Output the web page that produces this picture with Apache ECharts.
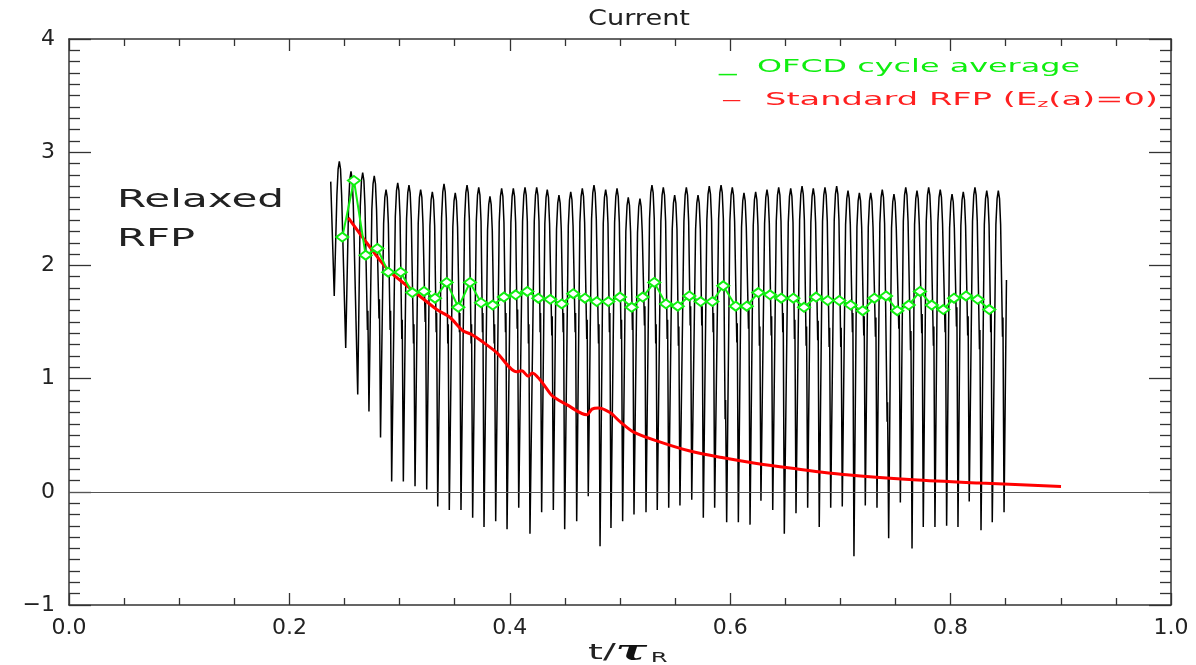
<!DOCTYPE html>
<html>
<head>
<meta charset="utf-8">
<script src="https://cdn.jsdelivr.net/npm/echarts@6/dist/echarts.min.js"></script>
<style>
html,body{margin:0;padding:0;background:#fff;}
#chart{width:1196px;height:665px;}
</style>
</head>
<body>
<div id="chart"></div>
<script>
// ---------------- data ----------------
const xTicks = [0.0, 0.2, 0.4, 0.6, 0.8, 1.0];
const yTicks = [-1, 0, 1, 2, 3, 4];

// OFCD oscillating current (black): start point, trough/peak sequence, notch level, end point
const blackStart = [0.2375, 2.74];
const blackEnd = [0.8507, 1.87];
const peakT = [0.2453,0.2559,0.2665,0.2770,0.2877,0.2983,0.3085,0.3191,0.3297,0.3403,
  0.3505,0.3612,0.3718,0.3820,0.3926,0.4032,0.4138,0.4244,0.4340,0.4446,
  0.4553,0.4658,0.4764,0.4870,0.4973,0.5075,0.5181,0.5290,0.5393,0.5496,
  0.5602,0.5708,0.5810,0.5917,0.6019,0.6125,0.6231,0.6334,0.6440,0.6549,
  0.6652,0.6754,0.6860,0.6966,0.7069,0.7172,0.7275,0.7380,0.7486,0.7593,
  0.7695,0.7801,0.7906,0.8013,0.8115,0.8221,0.8328,0.8433];
const peakV = [2.92,2.83,2.82,2.79,2.67,2.73,2.71,2.67,2.65,2.72,
  2.64,2.71,2.69,2.61,2.68,2.68,2.69,2.69,2.67,2.62,
  2.65,2.68,2.71,2.67,2.68,2.60,2.59,2.71,2.69,2.62,
  2.69,2.62,2.70,2.71,2.69,2.64,2.65,2.67,2.69,2.68,
  2.70,2.68,2.69,2.70,2.66,2.64,2.64,2.67,2.63,2.69,
  2.66,2.69,2.67,2.63,2.65,2.69,2.66,2.66];
const troughT = [0.2407,0.2511,0.2620,0.2722,0.2827,0.2928,0.3034,0.3140,0.3246,0.3346,
  0.3451,0.3557,0.3663,0.3766,0.3872,0.3975,0.4081,0.4183,0.4289,0.4395,
  0.4498,0.4607,0.4712,0.4819,0.4918,0.5024,0.5127,0.5236,0.5338,0.5442,
  0.5544,0.5651,0.5756,0.5859,0.5968,0.6074,0.6180,0.6279,0.6386,0.6491,
  0.6597,0.6703,0.6808,0.6912,0.7017,0.7123,0.7226,0.7332,0.7438,0.7544,
  0.7650,0.7752,0.7858,0.7964,0.8067,0.8169,0.8276,0.8378,0.8485];
const troughV = [1.73,1.27,0.86,0.71,0.48,0.09,0.09,0.05,0.02,-0.13,
  -0.16,-0.16,-0.23,-0.31,-0.26,-0.33,-0.14,-0.37,-0.18,-0.16,
  -0.33,-0.26,-0.04,-0.48,-0.32,-0.26,-0.20,-0.18,-0.16,-0.14,
  -0.12,-0.07,-0.23,-0.14,-0.27,-0.27,-0.29,-0.08,-0.16,-0.37,
  -0.19,-0.14,-0.31,-0.14,-0.13,-0.57,-0.12,-0.14,-0.41,-0.095,
  -0.50,-0.31,-0.31,-0.30,-0.31,-0.086,-0.34,-0.27,-0.18];
const notchV = [null,null,1.60,1.70,1.60,1.52,1.48,1.67,1.58,1.48,
  1.58,1.48,1.58,1.48,1.58,1.61,1.48,1.58,1.55,1.58,
  1.58,1.52,1.48,1.58,1.52,1.60,1.64,1.48,1.52,1.46,
  1.64,1.64,1.58,0.81,1.49,1.61,1.46,1.55,1.58,1.52,
  1.46,1.51,1.45,1.45,1.58,1.55,1.54,0.79,1.61,1.42,
  1.57,1.46,1.58,1.63,1.55,1.43,1.58,1.54];
const archDT = [-0.0022, -0.0011, 0, 0.0011, 0.0021];
const archDV = [-0.30, -0.07, 0, -0.07, -0.30];

// Standard RFP (red)
const rfpT = [0.2535,0.2701,0.2897,0.3094,0.3337,0.3457,0.3578,0.3654,0.3760,0.3881,
  0.4063,0.4108,0.4168,0.4204,0.4274,0.4365,0.4395,0.4516,0.4698,0.4746,0.4803,
  0.4909,0.5000,0.5121,0.5333,0.5635,0.5937,0.6240,0.6543,0.7057,0.7661,0.8267,0.9002];
const rfpV = [2.42,2.20,1.96,1.80,1.61,1.54,1.42,1.39,1.32,1.23,
  1.06,1.07,1.02,1.05,0.99,0.87,0.84,0.77,0.68,0.73,0.74,
  0.70,0.62,0.53,0.45,0.36,0.30,0.25,0.21,0.15,0.106,0.077,0.047];

// OFCD cycle average (green)
const avgT = [0.2480,0.2586,0.2692,0.2798,0.2897,0.3010,0.3115,0.3221,0.3321,0.3427,
  0.3533,0.3639,0.3739,0.3845,0.3947,0.4053,0.4159,0.4259,0.4367,0.4471,
  0.4576,0.4682,0.4789,0.4894,0.5000,0.5106,0.5206,0.5311,0.5417,0.5524,
  0.5629,0.5732,0.5838,0.5937,0.6050,0.6150,0.6255,0.6361,0.6463,0.6573,
  0.6670,0.6779,0.6885,0.6990,0.7093,0.7202,0.7308,0.7414,0.7516,0.7620,
  0.7722,0.7829,0.7934,0.8031,0.8140,0.8246,0.8351];
const avgV = [2.25,2.75,2.09,2.15,1.94,1.94,1.76,1.77,1.71,1.85,
  1.63,1.85,1.67,1.65,1.72,1.74,1.77,1.71,1.70,1.66,
  1.75,1.71,1.68,1.68,1.72,1.63,1.72,1.85,1.66,1.64,
  1.73,1.68,1.68,1.82,1.64,1.64,1.76,1.74,1.71,1.71,
  1.63,1.72,1.69,1.69,1.65,1.60,1.71,1.73,1.60,1.65,
  1.77,1.65,1.61,1.71,1.73,1.70,1.61];

// ---------------- build series data ----------------
const blackData = [blackStart.slice(), [troughT[0], troughV[0]]];
for (let i = 0; i < peakT.length; i++) {
  for (let k = 0; k < archDT.length; k++) {
    blackData.push([peakT[i] + archDT[k], peakV[i] + archDV[k]]);
  }
  if (notchV[i] != null) {
    const tn = troughT[i + 1] - 0.0014;
    blackData.push([tn, notchV[i] - 0.17]);
    blackData.push([tn + 0.0004, notchV[i]]);
  }
  blackData.push([troughT[i + 1], troughV[i + 1]]);
}
blackData.push(blackEnd.slice());
const rfpData = rfpT.map((t, i) => [t, rfpV[i]]);
const avgData = avgT.map((t, i) => [t, avgV[i]]);

// ---------------- helpers for wide vector-style lettering ----------------
const FONT = "'DejaVu Sans', sans-serif";
const mctx = document.createElement('canvas').getContext('2d');
function textW(str, size, fam) { mctx.font = size + 'px ' + (fam || FONT); return mctx.measureText(str).width; }

const axisColor = '#333';
const tickLabel = { fontFamily: FONT, fontSize: 22, color: '#222' };

const chart = echarts.init(document.getElementById('chart'), null, { renderer: 'canvas' });

const xAxisBase = {
  type: 'value', min: 0, max: 1, interval: 0.2,
  axisLine: { show: true, onZero: false, lineStyle: { color: axisColor, width: 1.5 } },
  axisTick: { show: true, inside: true, length: 12, lineStyle: { color: axisColor, width: 1.3 } },
  minorTick: { show: true, splitNumber: 4, length: 7, lineStyle: { color: axisColor, width: 1.3 } },
  splitLine: { show: false }, minorSplitLine: { show: false }
};
const yAxisBase = {
  type: 'value', min: -1, max: 4, interval: 1,
  axisLine: { show: true, onZero: false, lineStyle: { color: axisColor, width: 1.5 } },
  axisTick: { show: true, inside: true, length: 22, lineStyle: { color: axisColor, width: 1.3 } },
  minorTick: { show: true, splitNumber: 10, length: 11, lineStyle: { color: axisColor, width: 1.3 } },
  splitLine: { show: false }, minorSplitLine: { show: false }
};

// lettering sizes
const legendSize = 17.5;
const g1 = 'OFCD cycle average';
const r1a = 'Standard RFP (E', r1b = 'z', r1c = '(a)=0)';
const subSize = 11;
const redW = textW(r1a, legendSize) + textW(r1c, legendSize) + textW(r1b, subSize);
const axTitleW = textW('t/', 22) + textW('\u03C4', 27, "'DejaVu Serif'") + textW('R', 14) + 2;

const option = {
  animation: false,
  backgroundColor: '#fff',
  grid: { left: 69, right: 25, top: 39, bottom: 60, containLabel: false },
  xAxis: [
    Object.assign({}, xAxisBase, { position: 'bottom',
      axisLabel: Object.assign({}, tickLabel, { margin: 12, formatter: v => v.toFixed(1) }) }),
    Object.assign({}, xAxisBase, { position: 'top', axisLabel: { show: false } })
  ],
  yAxis: [
    Object.assign({}, yAxisBase, { position: 'left',
      axisLabel: Object.assign({}, tickLabel, { margin: 14, formatter: v => (v < 0 ? '\u2212' + Math.abs(v) : String(v)) }) }),
    Object.assign({}, yAxisBase, { position: 'right', axisLabel: { show: false } })
  ],
  series: [
    {
      name: 'OFCD', type: 'line', data: blackData, symbol: 'none', showSymbol: false,
      smooth: false,
      lineStyle: { color: '#000', width: 1.5 }, z: 2,
      markLine: {
        silent: true, symbol: 'none', label: { show: false }, animation: false,
        lineStyle: { color: '#555', width: 1.2, type: 'solid' },
        data: [{ yAxis: 0 }]
      }
    },
    {
      name: 'Standard RFP', type: 'line', data: rfpData, symbol: 'none', showSymbol: false,
      smooth: 0.3, lineStyle: { color: '#ff0000', width: 3 }, z: 3
    },
    {
      name: 'OFCD cycle average', type: 'line', data: avgData,
      symbol: 'emptyDiamond', symbolSize: [12, 9], showSymbol: true,
      itemStyle: { color: '#10ee10', borderWidth: 1.5, borderColor: '#10ee10' },
      lineStyle: { color: '#10ee10', width: 2 }, z: 4
    }
  ],
  graphic: [
    { type: 'text', x: 588, y: 19, scaleX: 102 / textW('Current', 22),
      style: { text: 'Current', font: '22px ' + FONT, fill: '#222', textAlign: 'left', textVerticalAlign: 'middle' } },
    // legend
    { type: 'text', x: 719, y: 64, scaleX: 1.6,
      style: { text: '_', font: '22px ' + FONT, fill: '#10ee10', textAlign: 'left', textVerticalAlign: 'middle' } },
    { type: 'text', x: 757, y: 67, scaleX: 323 / textW(g1, legendSize),
      style: { text: g1, font: legendSize + 'px ' + FONT, fill: '#10ee10', textAlign: 'left', textVerticalAlign: 'middle' } },
    { type: 'text', x: 722, y: 100, scaleX: 1.1,
      style: { text: '\u2014', font: legendSize + 'px ' + FONT, fill: '#ff2020', textAlign: 'left', textVerticalAlign: 'middle' } },
    { type: 'text', x: 765, y: 100, scaleX: 393 / redW,
      style: {
        text: '{a|' + r1a + '}{b|' + r1b + '}{a|' + r1c + '}',
        textAlign: 'left', textVerticalAlign: 'middle',
        rich: {
          a: { fontFamily: FONT, fontSize: legendSize, fill: '#ff2020', color: '#ff2020' },
          b: { fontFamily: FONT, fontSize: subSize, fill: '#ff2020', color: '#ff2020', padding: [9, 0, 0, 0] }
        }
      } },
    // annotation
    { type: 'text', x: 117, y: 200, scaleX: 167 / textW('Relaxed', 25.5),
      style: { text: 'Relaxed', font: '25.5px ' + FONT, fill: '#222', textAlign: 'left', textVerticalAlign: 'middle' } },
    { type: 'text', x: 117, y: 239, scaleX: 78 / textW('RFP', 25.5),
      style: { text: 'RFP', font: '25.5px ' + FONT, fill: '#222', textAlign: 'left', textVerticalAlign: 'middle' } },
    // x axis title t/τ_R
    { type: 'text', x: 588, y: 653, scaleX: 74 / axTitleW,
      style: {
        text: '{a|t/}{b|\u03C4}{c|R}', textAlign: 'left', textVerticalAlign: 'middle',
        rich: {
          a: { fontFamily: FONT, fontSize: 22, color: '#222', fill: '#222' },
          b: { fontFamily: 'DejaVu Serif', fontSize: 27, fontWeight: 'bold', fontStyle: 'italic', color: '#111', fill: '#111' },
          c: { fontFamily: FONT, fontSize: 14, color: '#222', fill: '#222', padding: [10, 0, 0, 2] }
        }
      } }
  ]
};
chart.setOption(option);
</script>
</body>
</html>
